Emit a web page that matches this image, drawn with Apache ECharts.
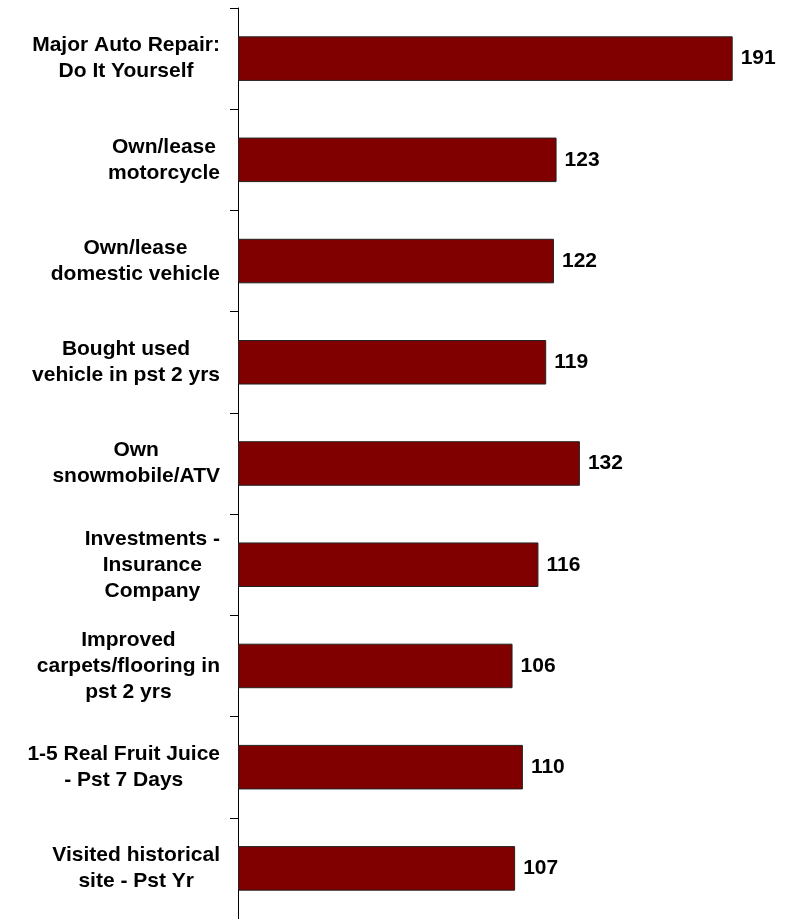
<!DOCTYPE html>
<html>
<head>
<meta charset="utf-8">
<script src="https://cdn.jsdelivr.net/npm/echarts@6/dist/echarts.min.js"></script>
<style>
html,body{margin:0;padding:0;background:#fff;}
#chart{width:789px;height:919px;}
</style>
</head>
<body>
<div id="chart"></div>
<script>
const categories = [
  "Major Auto Repair:\nDo It Yourself",
  "Own/lease\nmotorcycle",
  "Own/lease\ndomestic vehicle",
  "Bought used\nvehicle in pst 2 yrs",
  "Own\nsnowmobile/ATV",
  "Investments -\nInsurance\nCompany",
  "Improved\ncarpets/flooring in\npst 2 yrs",
  "1-5 Real Fruit Juice\n- Pst 7 Days",
  "Visited historical\nsite - Pst Yr"
];
const values = [191, 123, 122, 119, 132, 116, 106, 110, 107];

const chart = echarts.init(document.getElementById('chart'), null, {renderer: 'canvas'});
const font = '"Liberation Sans", Arial, Helvetica, sans-serif';
chart.setOption({
  animation: false,
  backgroundColor: '#ffffff',
  grid: {left: 238, width: 518, top: 8, height: 913.5, containLabel: false},
  xAxis: {
    type: 'value', min: 0, max: 200, show: false
  },
  yAxis: {
    type: 'category',
    data: categories,
    inverse: true,
    axisLine: {show: true, lineStyle: {color: '#000', width: 1}},
    axisTick: {show: true, inside: false, length: 8, lineStyle: {color: '#000', width: 1}},
    splitLine: {show: false},
    axisLabel: {
      margin: 18,
      align: 'right',
      color: '#000',
      fontFamily: font,
      fontWeight: 'bold',
      fontSize: 21,
      lineHeight: 26,
      formatter: function (v) {
        return v.split('\n').map(s => '{c|' + s + '}').join('\n');
      },
      rich: {
        c: {align: 'center', color: '#000', fontFamily: font, fontWeight: 'bold', fontSize: 21, lineHeight: 26}
      }
    }
  },
  series: [{
    type: 'bar',
    data: values,
    barWidth: '44%',
    itemStyle: {color: '#800000', borderColor: '#222', borderWidth: 1},
    label: {
      show: true,
      position: 'right',
      distance: 8,
      color: '#000',
      fontFamily: font,
      fontWeight: 'bold',
      fontSize: 21
    }
  }]
});
</script>
</body>
</html>
